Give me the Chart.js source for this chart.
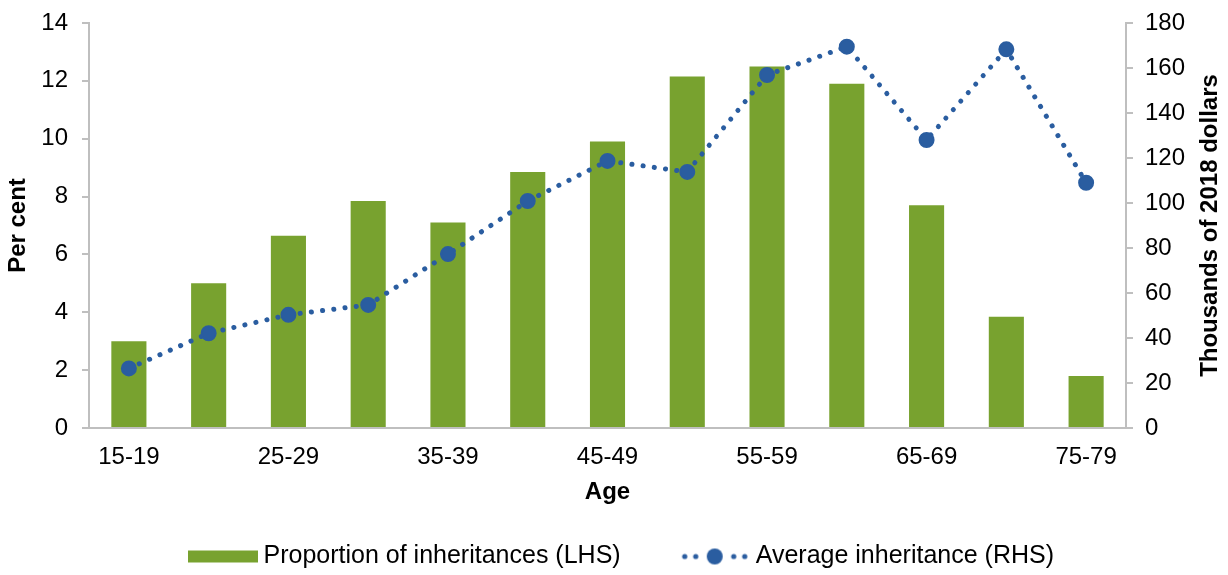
<!DOCTYPE html>
<html>
<head>
<meta charset="utf-8">
<script src="https://cdn.jsdelivr.net/npm/chart.js@4.4.1/dist/chart.umd.min.js"></script>
<style>
  body { margin: 0; background: #fff; }
  #wrap { width: 1228px; height: 575px; }
</style>
</head>
<body>
<div id="wrap"><canvas id="inheritChart"></canvas></div>
<script>
// Données
const ageGroups = ['15-19', '20-24', '25-29', '30-34', '35-39', '40-44', '45-49',
    '50-54', '55-59', '60-64', '65-69', '70-74', '75-79'];
const proportionLHS = [3.0, 5.0, 6.65, 7.85, 7.1, 8.85, 9.9, 12.15, 12.5, 11.9, 7.7, 3.85, 1.8];
const averageRHS = [26.5, 42.1, 50.3, 54.7, 77.3, 100.9, 118.7, 113.8, 156.9, 169.5, 128, 168.3, 109];
const leftTicks = [0, 2, 4, 6, 8, 10, 12, 14];
const rightTicks = [0, 20, 40, 60, 80, 100, 120, 140, 160, 180];

const green = '#78A22F';
const blue = '#2A5DA0';
const axisGrey = '#BFBFBF';
const family = "'Liberation Sans', Arial, sans-serif";
const font = { family: family, size: 24 };
const legendFont = { family: family, size: 25 };
const boldFont = { family: family, size: 24, weight: 'bold' };

// Icônes de légende
const makeBarIcon = () => {
    const c = document.createElement('canvas');
    c.width = 70; c.height = 14;
    const g = c.getContext('2d');
    g.fillStyle = green;
    g.fillRect(0, 1, 70, 12);
    return c;
};
const makeLineIcon = () => {
    const c = document.createElement('canvas');
    c.width = 68; c.height = 18;
    const g = c.getContext('2d');
    g.fillStyle = blue;
    [4, 15, 53, 64].forEach(x => {
        g.beginPath(); g.arc(x, 9, 2.6, 0, Math.PI * 2); g.fill();
    });
    g.beginPath(); g.arc(34, 9, 8, 0, Math.PI * 2); g.fill();
    return c;
};
const barIcon = makeBarIcon();
const lineIcon = makeLineIcon();

// Titres verticaux (lus de bas en haut des deux côtés)
const sideTitles = {
    id: 'sideTitles',
    afterDraw(chart) {
        const area = chart.chartArea;
        const c = chart.ctx;
        const midY = (area.top + area.bottom) / 2;
        c.save();
        c.font = 'bold 24px ' + family;
        c.fillStyle = '#000';
        c.textAlign = 'center';
        c.textBaseline = 'middle';
        [[18, 'Per cent'], [1210, 'Thousands of 2018 dollars']].forEach(([x, txt]) => {
            c.save();
            c.translate(x, midY);
            c.rotate(-Math.PI / 2);
            c.fillText(txt, 0, 0);
            c.restore();
        });
        c.restore();
    }
};

// Largeur fixe des axes verticaux et marge haute réduite
const fixSide = width => scale => {
    scale.width = width;
    scale.paddingTop = 23;
    scale.paddingBottom = 0;
};

const ctx = document.getElementById('inheritChart').getContext('2d');
const inheritChart = new Chart(ctx, {
    type: 'bar',
    data: {
        labels: ageGroups,
        datasets: [{
            label: 'Proportion of inheritances (LHS)',
            data: proportionLHS,
            backgroundColor: green,
            yAxisID: 'y',
            order: 2,
            barPercentage: 0.44,
            categoryPercentage: 1
        }, {
            type: 'line',
            label: 'Average inheritance (RHS)',
            data: averageRHS,
            yAxisID: 'y1',
            order: 1,
            borderColor: blue,
            backgroundColor: blue,
            borderWidth: 5,
            borderDash: [0.1, 11.2],
            borderCapStyle: 'round',
            pointRadius: 7,
            pointBorderWidth: 2,
            pointBorderColor: blue,
            pointBackgroundColor: blue,
            tension: 0
        }]
    },
    plugins: [sideTitles],
    options: {
        responsive: true,
        maintainAspectRatio: false,
        animation: false,
        layout: { padding: { left: 20, right: 0, top: 4, bottom: -4 } },
        plugins: {
            tooltip: { enabled: false },
            legend: {
                position: 'bottom',
                labels: {
                    usePointStyle: true,
                    pointStyleWidth: 57,
                    color: '#000',
                    font: legendFont,
                    padding: 10,
                    generateLabels: chart => chart.data.datasets.map((ds, i) => ({
                        // espaces insécables pour écarter les deux entrées
                        text: i === 0 ? ds.label + '\u00A0'.repeat(8) : ds.label,
                        datasetIndex: i,
                        pointStyle: i === 0 ? barIcon : lineIcon,
                        fillStyle: ds.backgroundColor,
                        strokeStyle: ds.backgroundColor,
                        lineWidth: 0,
                        fontColor: '#000',
                        hidden: false
                    }))
                }
            }
        },
        scales: {
            x: {
                afterFit: scale => { scale.height = 106; },
                grid: { display: false, drawTicks: false },
                border: { color: axisGrey, width: 2 },
                ticks: {
                    color: '#000', font: font, padding: 15,
                    autoSkip: false, maxRotation: 0,
                    callback: (v, i) => (i % 2 === 0 ? ageGroups[i] : '')
                },
                title: { display: true, text: 'Age', color: '#000', font: boldFont, padding: { top: 6, bottom: 27 } }
            },
            y: {
                position: 'left',
                min: 0, max: 14,
                afterFit: fixSide(69),
                afterBuildTicks: axis => { axis.ticks = leftTicks.map(v => ({ value: v })); },
                grid: { drawOnChartArea: false, drawTicks: true, tickLength: 7, color: axisGrey, lineWidth: 2 },
                border: { color: axisGrey, width: 2 },
                ticks: { color: '#000', font: font, padding: 14 }
            },
            y1: {
                position: 'right',
                min: 0, max: 180,
                afterFit: fixSide(102),
                afterBuildTicks: axis => { axis.ticks = rightTicks.map(v => ({ value: v })); },
                grid: { drawOnChartArea: false, drawTicks: true, tickLength: 7, color: axisGrey, lineWidth: 2 },
                border: { color: axisGrey, width: 2 },
                ticks: { color: '#000', font: font, padding: 12 }
            }
        }
    }
});
</script>
</body>
</html>
